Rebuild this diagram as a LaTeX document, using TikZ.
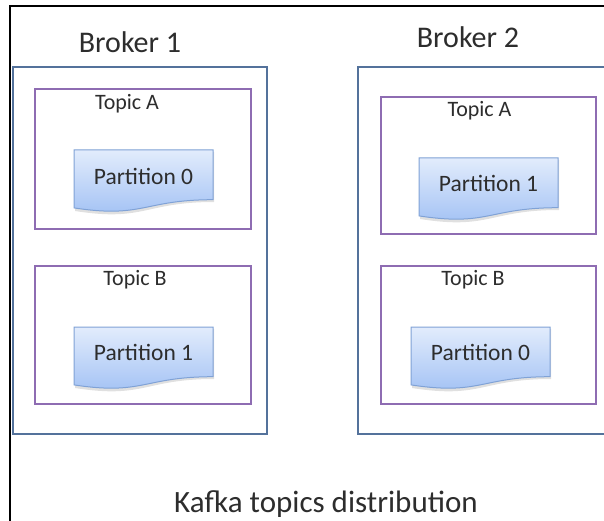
\documentclass[tikz,border=0pt]{standalone}
\usepackage{fontspec}
\setmainfont{Carlito}
\definecolor{brokerc}{RGB}{84,114,155}
\definecolor{topicc}{RGB}{142,108,178}
\definecolor{ptop}{RGB}{226,236,252}
\definecolor{pbot}{RGB}{160,192,244}
\definecolor{pedge}{RGB}{128,162,214}
\definecolor{txt}{RGB}{45,45,45}
\begin{document}
\begin{tikzpicture}[x=1pt,y=-1pt,
  frame/.style={draw=black, line width=2.5pt},
  broker/.style={draw=brokerc, line width=2pt},
  topic/.style={draw=topicc, line width=2pt},
  lbl/.style={anchor=base, inner sep=0pt, text=txt},
  brokertext/.style={lbl, font=\fontsize{30}{30}\selectfont},
  topictext/.style={lbl, font=\fontsize{22}{22}\selectfont},
  parttext/.style={lbl, font=\fontsize{23.5}{23.5}\selectfont},
  captext/.style={lbl, font=\fontsize{31}{31}\selectfont},
  partshade/.style={top color=ptop, bottom color=pbot, draw=pedge, line width=1pt},
  partshadow/.style={fill=black, fill opacity=0.12, draw=none}]
\useasboundingbox (0,0) rectangle (604,521);
\fill[white] (0,0) rectangle (604,521);
% outer frame (top and left edges)
\draw[frame] (10,521) -- (10,6) -- (604,6);
% brokers
\draw[broker] (13,67) rectangle (267,434);
\draw[broker] (604,67) -- (358,67) -- (358,434) -- (604,434);
\node[brokertext] (b1) at (130,53) {Broker 1};
\node[brokertext] (b2) at (468,48) {Broker 2};
% topics
\draw[topic] (35,89) rectangle (251,229);
\draw[topic] (35,266) rectangle (251,404);
\draw[topic] (381,97) rectangle (596,234);
\draw[topic] (381,266) rectangle (596,404);
\node[topictext] (t1a) at (127,110) {Topic A};
\node[topictext] (t1b) at (135,285) {Topic B};
\node[topictext] (t2a) at (479.5,117) {Topic A};
\node[topictext] (t2b) at (473,285) {Topic B};
% partitions (document shapes)
\foreach \px/\py in {74/150, 74/327, 419/158, 411/327}{
  \begin{scope}[shift={(\px,\py)}]
    \path[partshadow] (1,2) -- (140,2) -- (140,52) .. controls (70.5,52) and (70.5,72) .. (1,61) -- cycle;
    \shadedraw[partshade] (0,0) -- (139,0) -- (139,49.7) .. controls (69.5,49.7) and (69.5,68.6) .. (0,57.9) -- cycle;
  \end{scope}
}
\node[parttext] (p1a) at (143.5,185) {Partition 0};
\node[parttext] (p1b) at (143.5,360) {Partition 1};
\node[parttext] (p2a) at (488.5,192) {Partition 1};
\node[parttext] (p2b) at (480.5,360) {Partition 0};
% caption
\node[captext] (cap) at (326,512) {Kafka topics distribution};
\end{tikzpicture}
\end{document}
